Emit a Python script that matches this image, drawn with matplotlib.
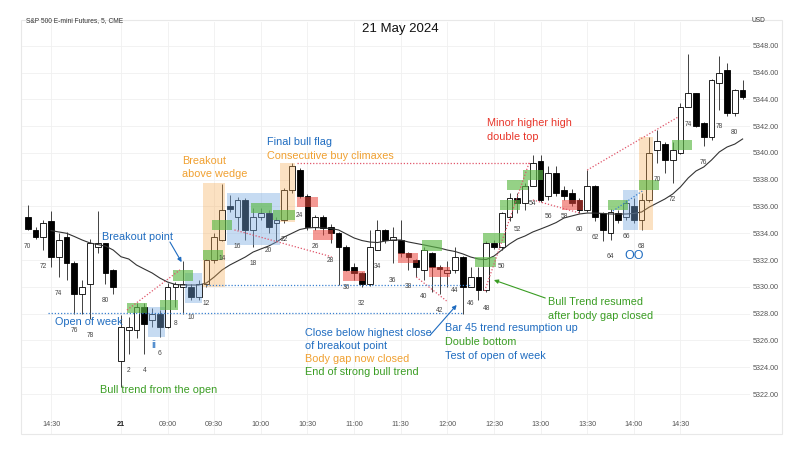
import matplotlib
matplotlib.use("Agg")
import matplotlib.pyplot as plt
from matplotlib.patches import Rectangle
import matplotlib.transforms as mtransforms

plt.rcParams['font.family'] = ['Liberation Sans', 'DejaVu Sans']

# ---------------- data ----------------
# previous session bars 70..81 then today's bars 1..81 (5-minute bars)
prev_numbers = list(range(70, 82))
day_numbers = list(range(1, 82))

prev_open  = [5335.25, 5334.25, 5333.7, 5334.9, 5332.25, 5333.75, 5331.75, 5329.5, 5330.25, 5333.0, 5333.25, 5331.25]
prev_high  = [5336.1, 5334.45, 5335.0, 5335.7, 5334.0, 5334.1, 5331.9, 5330.5, 5333.6, 5335.7, 5333.3, 5331.3]
prev_low   = [5334.25, 5333.55, 5332.75, 5331.5, 5330.75, 5330.5, 5328.0, 5328.0, 5327.6, 5332.5, 5330.25, 5329.5]
prev_close = [5334.3, 5333.75, 5334.75, 5332.25, 5333.5, 5331.75, 5329.5, 5330.0, 5333.25, 5333.25, 5331.0, 5330.0]

day_open = [5324.5, 5326.75, 5326.75, 5328.5, 5327.5, 5328.0, 5327.0, 5330.0, 5330.0, 5330.0,
            5329.25, 5330.25, 5332.0, 5333.5, 5336.0, 5335.25, 5336.5, 5334.25, 5335.25, 5335.5,
            5334.8, 5335.0, 5337.25, 5338.75, 5336.75, 5334.5, 5335.25, 5334.5, 5334.0, 5333.0,
            5331.5, 5331.0, 5330.25, 5332.75, 5334.25, 5333.5, 5333.5, 5332.5, 5332.0, 5331.25,
            5332.5, 5331.5, 5331.05, 5331.25, 5332.25, 5330.0, 5330.75, 5329.75, 5333.25, 5333.0,
            5335.25, 5336.6, 5336.25, 5337.5, 5339.4, 5336.75, 5338.5, 5337.25, 5337.0, 5336.5,
            5335.75, 5337.5, 5335.5, 5334.0, 5335.5, 5335.25, 5336.0, 5335.0, 5336.5, 5340.2,
            5340.7, 5339.5, 5340.0, 5343.45, 5344.45, 5342.2, 5341.2, 5345.2, 5346.2, 5343.0,
            5344.7]
day_high = [5327.9, 5327.75, 5328.8, 5328.8, 5328.4, 5328.3, 5330.3, 5330.4, 5331.9, 5330.25,
            5330.5, 5332.1, 5334.0, 5337.7, 5336.85, 5336.7, 5336.6, 5335.9, 5335.9, 5335.75,
            5335.25, 5337.4, 5339.25, 5338.9, 5336.9, 5335.4, 5335.4, 5334.7, 5334.1, 5333.1,
            5331.75, 5331.1, 5334.25, 5335.0, 5334.3, 5334.5, 5335.0, 5332.6, 5332.1, 5333.0,
            5332.6, 5331.6, 5331.9, 5333.0, 5332.3, 5331.5, 5331.5, 5333.4, 5333.5, 5335.6,
            5337.0, 5337.0, 5337.75, 5339.85, 5339.85, 5339.0, 5339.0, 5337.5, 5337.3, 5336.6,
            5338.7, 5337.6, 5335.6, 5335.85, 5335.75, 5336.5, 5336.6, 5337.0, 5341.2, 5341.7,
            5340.8, 5340.85, 5343.7, 5347.4, 5344.5, 5342.3, 5345.5, 5347.2, 5346.7, 5344.75,
            5345.45]
day_low = [5322.5, 5325.0, 5326.2, 5325.0, 5327.0, 5326.25, 5326.9, 5328.5, 5328.0, 5329.0,
           5329.0, 5330.0, 5331.8, 5333.4, 5335.6, 5334.25, 5333.5, 5333.0, 5335.0, 5334.0,
           5333.4, 5334.75, 5337.0, 5336.6, 5334.25, 5334.25, 5333.9, 5333.25, 5330.15, 5331.2,
           5330.5, 5330.0, 5330.1, 5332.75, 5333.3, 5331.75, 5332.25, 5331.25, 5330.75, 5330.5,
           5329.65, 5329.5, 5330.0, 5331.0, 5328.0, 5330.0, 5329.0, 5329.6, 5332.8, 5332.75,
           5334.9, 5335.5, 5335.75, 5337.5, 5336.3, 5336.5, 5336.75, 5336.5, 5336.0, 5335.5,
           5335.6, 5334.9, 5333.4, 5333.5, 5334.75, 5335.0, 5334.8, 5334.25, 5336.3, 5339.25,
           5338.5, 5337.75, 5339.9, 5343.4, 5341.9, 5340.5, 5341.0, 5343.2, 5342.75, 5342.75,
           5344.0]
day_close = [5327.0, 5327.0, 5328.5, 5327.25, 5328.0, 5327.0, 5330.0, 5330.25, 5330.25, 5329.25,
             5330.25, 5332.0, 5333.75, 5335.75, 5335.8, 5336.5, 5334.25, 5335.25, 5335.5, 5334.5,
             5335.0, 5337.25, 5339.0, 5336.75, 5334.5, 5335.25, 5334.4, 5334.0, 5333.0, 5331.25,
             5331.0, 5330.25, 5333.0, 5334.25, 5333.5, 5333.75, 5332.5, 5332.25, 5331.5, 5332.75,
             5331.5, 5331.3, 5331.25, 5332.25, 5330.0, 5330.75, 5329.75, 5333.25, 5333.0, 5335.5,
             5336.6, 5336.25, 5337.5, 5339.25, 5336.5, 5338.5, 5337.0, 5336.75, 5336.25, 5335.75,
             5337.5, 5335.25, 5334.25, 5335.6, 5335.0, 5336.25, 5335.0, 5336.5, 5340.0, 5340.9,
             5339.5, 5340.2, 5343.45, 5344.45, 5342.0, 5341.2, 5345.45, 5345.95, 5343.0, 5344.7,
             5344.2]

# 20-bar EMA: previous bars 73..81 then today's 1..81
ema_prev = [5334.2, 5334.1, 5334.0, 5333.76, 5333.5, 5333.28, 5333.16, 5333.05, 5332.75]
ema_day = [5332.25, 5332.08, 5331.63, 5331.33, 5331.04, 5330.66, 5330.36, 5330.18, 5330.14, 5330.14,
           5330.14, 5330.29, 5330.74, 5331.26, 5331.63, 5331.93, 5332.23, 5332.6, 5332.83, 5333.05,
           5333.35, 5333.72, 5334.0, 5334.28, 5334.4, 5334.43, 5334.4, 5334.36, 5334.25, 5333.95,
           5333.65, 5333.46, 5333.35, 5333.31, 5333.42, 5333.5, 5333.5, 5333.35, 5333.24, 5333.13,
           5333.01, 5332.9, 5332.75, 5332.64, 5332.46, 5332.23, 5332.08, 5332.04, 5332.3, 5332.75,
           5333.2, 5333.57, 5333.8, 5334.1, 5334.32, 5334.55, 5334.8, 5335.14, 5335.29, 5335.44,
           5335.51, 5335.51, 5335.48, 5335.44, 5335.44, 5335.44, 5335.48, 5335.59, 5335.96, 5336.26,
           5336.56, 5336.93, 5337.46, 5338.13, 5338.65, 5338.95, 5339.47, 5340.07, 5340.44, 5340.66,
           5341.04]

time_labels = ["14:30", "21", "09:00", "09:30", "10:00", "10:30", "11:00", "11:30",
               "12:00", "12:30", "13:00", "13:30", "14:00", "14:30"]
time_label_bars = [-8, 1, 7, 13, 19, 25, 31, 37, 43, 49, 55, 61, 67, 73]
price_ticks = [5322, 5324, 5326, 5328, 5330, 5332, 5334, 5336, 5338, 5340, 5342, 5344, 5346, 5348]

# ---------------- annotation geometry (bar index, price) ----------------
green_boxes = [(1.8, 4.4, 5328.05, 5328.8), (6.0, 8.4, 5328.28, 5329.02), (7.7, 10.3, 5330.44, 5331.26),
               (11.55, 14.1, 5332.0, 5332.75), (12.7, 15.3, 5334.25, 5335.0), (17.7, 20.4, 5335.51, 5336.26),
               (20.55, 23.4, 5335.0, 5335.74), (39.7, 42.3, 5332.7, 5333.5), (46.6, 49.3, 5331.5, 5332.25),
               (47.6, 50.4, 5333.25, 5334.0), (49.8, 52.3, 5335.74, 5336.49), (50.7, 53.4, 5337.23, 5337.98),
               (52.7, 55.3, 5337.98, 5338.72), (63.7, 66.2, 5335.74, 5336.49), (67.7, 70.2, 5337.23, 5337.98),
               (71.9, 74.5, 5340.22, 5340.96)]
red_boxes = [(23.6, 26.3, 5335.98, 5336.73), (25.7, 28.3, 5333.5, 5334.25), (29.6, 32.4, 5330.44, 5331.19),
             (36.6, 39.2, 5331.76, 5332.5), (40.6, 43.3, 5330.76, 5331.5), (57.7, 60.4, 5335.74, 5336.49)]
blue_boxes = [(4.5, 6.65, 5326.26, 5328.52), (9.2, 11.4, 5328.78, 5331.0), (14.6, 21.5, 5333.13, 5336.99),
              (65.6, 67.5, 5334.25, 5337.23)]
orange_boxes = [(11.55, 14.4, 5330.0, 5337.73), (21.5, 23.4, 5334.87, 5339.22), (67.7, 69.5, 5334.25, 5341.21)]

red_dotted = [((1.77, 5328.27), (8.6, 5331.27)), ((15.6, 5334.25), (28.1, 5332.25)),
              ((23.6, 5339.25), (53.6, 5339.25)), ((39.0, 5330.74), (42.9, 5328.95)),
              ((47.8, 5329.69), (53.6, 5339.39)), ((54.0, 5336.49), (60.1, 5335.5)),
              ((61.0, 5338.72), (72.7, 5342.68))]
blue_dotted = [((-8.4, 5328.05), (45.0, 5328.05)), ((11.9, 5330.14), (45.9, 5330.14)),
               ((64.3, 5335.66), (68.1, 5337.16))]

BLUE = '#1f6cc0'
GREEN = '#3a9d23'
ORANGE = '#f0a030'
RED = '#e8352a'

# ---------------- figure ----------------
fig = plt.figure(figsize=(8, 4.5), dpi=100)
ax = fig.add_axes([22 / 800, 1 - 434 / 450, (750 - 22) / 800, (434 - 22) / 450])
ax.set_xlim(-11.74, 81.95)
ax.set_ylim(5319.02, 5349.77)

frame = Rectangle((21 / 800, 1 - 434 / 450), (782 - 21) / 800, (434 - 20) / 450,
                  transform=fig.transFigure, fill=False, edgecolor='#e8e8e8', lw=0.8)
fig.patches.append(frame)

for s in ax.spines.values():
    s.set_visible(False)
ax.set_xticks(time_label_bars)
ax.set_xticklabels([])
ax.tick_params(axis='x', length=0)
ax.yaxis.tick_right()
ax.set_yticks(price_ticks)
ax.set_yticklabels([f"{p:.2f}" for p in price_ticks], fontsize=5.2, color='#555555')
ax.tick_params(axis='y', length=0, pad=2)
ax.grid(True, color='#f0f0f0', lw=0.6, zorder=0)
ax.set_axisbelow(True)

# candles
idx = [n - 81 for n in prev_numbers] + day_numbers
opens = prev_open + day_open
highs = prev_high + day_high
lows = prev_low + day_low
closes = prev_close + day_close
numbers = prev_numbers + day_numbers
w = 0.74
for i, o, h, l, c in zip(idx, opens, highs, lows, closes):
    ax.vlines(i, l, h, color='#222222', lw=0.6, zorder=2)
    bottom = min(o, c)
    height = max(abs(c - o), 0.06)
    face = 'white' if c >= o else 'black'
    ax.add_patch(Rectangle((i - w / 2, bottom), w, height, facecolor=face,
                           edgecolor='black', lw=0.6, zorder=3))

for i, n, l in zip(idx, numbers, lows):
    if n % 2 == 0:
        ax.text(i, l - 1.25, str(n), fontsize=4.8, color='#444444', ha='center', va='center', zorder=6)

ema_idx = list(range(-8, 1)) + day_numbers
ax.plot(ema_idx, ema_prev + ema_day, color='#333333', lw=0.8, zorder=4)

def boxes(lst, color, alpha):
    for x0, x1, p0, p1 in lst:
        ax.add_patch(Rectangle((x0, p0), x1 - x0, p1 - p0, facecolor=color, alpha=alpha,
                               edgecolor='none', zorder=5))

boxes(orange_boxes, '#f5aa50', 0.35)
boxes(blue_boxes, '#78aae1', 0.42)
boxes(green_boxes, '#5cb946', 0.65)
boxes(red_boxes, '#eb463c', 0.55)

for (x0, y0), (x1, y1) in red_dotted:
    ax.plot([x0, x1], [y0, y1], color='#e0556a', lw=0.9, ls=(0, (1, 1.5)), zorder=6)
for (x0, y0), (x1, y1) in blue_dotted:
    ax.plot([x0, x1], [y0, y1], color='#3a80d0', lw=0.9, ls=(0, (1, 1.5)), zorder=6)

def arrow(start, end, color):
    ax.annotate('', xy=end, xytext=start,
                arrowprops=dict(arrowstyle='-|>', color=color, lw=0.8, mutation_scale=6,
                                shrinkA=0, shrinkB=0), zorder=7)

arrow((7.3, 5333.35), (8.8, 5331.85), BLUE)
arrow((40.8, 5326.41), (44.2, 5328.65), BLUE)
arrow((55.6, 5329.17), (49.0, 5330.51), GREEN)

fs = 7.8
def txt(x, y, s, color, **kw):
    ax.text(x, y, s, fontsize=kw.pop('size', fs), color=color, ha=kw.pop('ha', 'left'),
            va='center', zorder=8, **kw)

txt(-1.44, 5333.72, 'Breakout point', BLUE)
txt(-7.5, 5327.38, 'Open of week', BLUE)
txt(5.25, 5325.66, 'ii', BLUE, ha='center')
txt(-1.7, 5322.3, 'Bull trend from the open', GREEN)
txt(8.85, 5339.4, 'Breakout', ORANGE)
txt(8.85, 5338.43, 'above wedge', ORANGE)
txt(19.8, 5340.8, 'Final bull flag', BLUE)
txt(19.8, 5339.78, 'Consecutive buy climaxes', ORANGE)
txt(48.1, 5342.2, 'Minor higher high', RED)
txt(48.1, 5341.15, 'double top', RED)
txt(24.7, 5326.56, 'Close below highest close', BLUE)
txt(24.7, 5325.59, 'of breakout point', BLUE)
txt(24.7, 5324.62, 'Body gap now closed', ORANGE)
txt(24.7, 5323.65, 'End of strong bull trend', GREEN)
txt(42.7, 5326.93, 'Bar 45 trend resumption up', BLUE)
txt(42.7, 5325.89, 'Double bottom', GREEN)
txt(42.7, 5324.84, 'Test of open of week', BLUE)
txt(55.9, 5328.87, 'Bull Trend resumed', GREEN)
txt(55.9, 5327.83, 'after body gap closed', GREEN)
txt(67.0, 5332.31, 'OO', BLUE, ha='center', size=9)

# time labels inside bottom of the axes
tr = mtransforms.blended_transform_factory(ax.transData, ax.transAxes)
for b, lab in zip(time_label_bars, time_labels):
    bold = lab == '21'
    ax.text(b, 9 / 412, lab, transform=tr, fontsize=5.2, ha='center', va='center',
            color='#222222' if bold else '#555555', fontweight='bold' if bold else 'normal')

fig.text(26 / 800, 1 - 21 / 450, 'S&P 500 E-mini Futures, 5, CME', fontsize=4.8, color='#333333',
         ha='left', va='center')
fig.text(400 / 800, 1 - 29 / 450, '21 May 2024', fontsize=9.5, color='#111111', ha='center', va='center')
fig.text(758 / 800, 1 - 20 / 450, 'USD', fontsize=4.8, color='#333333', ha='center', va='center')

fig.savefig('out.png', dpi=100)
